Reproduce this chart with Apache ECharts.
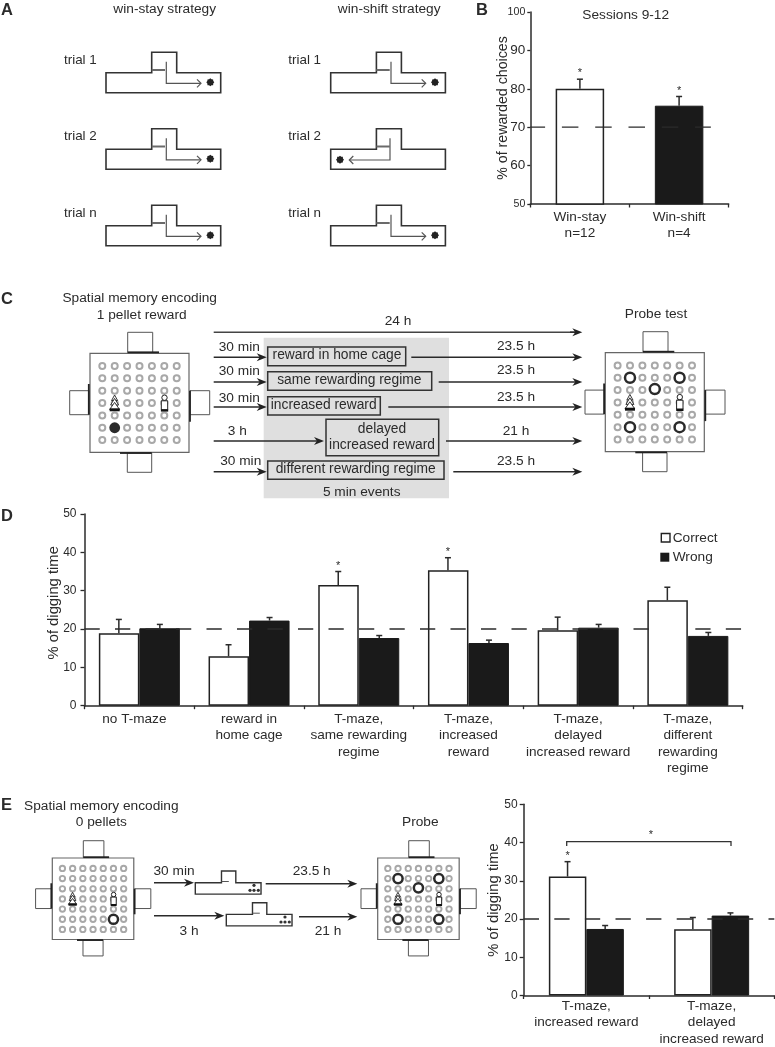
<!DOCTYPE html>
<html><head><meta charset="utf-8">
<style>html,body{margin:0;padding:0;background:#fff}#c{width:775px;height:1047px}</style>
<script src="https://cdn.jsdelivr.net/npm/echarts@6/dist/echarts.min.js"></script>
</head><body><div id="c"></div>
<script>
// ---- data ----
const catsB = ['Win-stay\nn=12', 'Win-shift\nn=4'];
const meanB = [80, 75.6];
const errTopB = [82.5, 78];
const starB = [1, 1];
const chanceB = 70;

const catsD = ['no T-maze', 'reward in\nhome cage', 'T-maze,\nsame rewarding\nregime', 'T-maze,\nincreased\nreward', 'T-maze,\ndelayed\nincreased reward', 'T-maze,\ndifferent\nrewarding\nregime'];
const correctD = [18.9, 12.9, 31.5, 35.3, 19.65, 27.5];
const correctTopD = [22.5, 15.9, 35, 38.6, 23.1, 30.9];
const correctStarD = [0, 0, 1, 1, 0, 0];
const wrongD = [20.2, 22.2, 17.65, 16.35, 20.35, 18.2];
const wrongTopD = [21.2, 23.0, 18.3, 17.1, 21.2, 19.1];
const chanceD = 20;

const catsE = ['T-maze,\nincreased reward', 'T-maze,\ndelayed\nincreased reward'];
const correctE = [31.1, 17.3];
const correctTopE = [35, 20.4];
const correctStarE = [1, 0];
const wrongE = [17.4, 20.9];
const wrongTopE = [18.3, 21.6];
const chanceE = 20;

// ---- styling ----
const FF = '"Liberation Sans", Arial, sans-serif';
const INK = '#2b2b2b', DARK = '#1a1a1a';
const axisLine = {show: true, lineStyle: {color: INK, width: 1.5}};
const yAxisOf = (grid, min, max, name, nameSize, gap, margin, tick, size, extra) => ({
  type: 'value', gridIndex: grid, min, max, interval: 10,
  name, nameLocation: 'middle', nameGap: gap, nameMoveOverlap: false,
  nameTextStyle: Object.assign({fontFamily: FF, fontSize: nameSize, color: INK}, extra && extra.nameStyle),
  axisLine, axisTick: {show: true, length: tick, lineStyle: {color: INK, width: 1.3}},
  axisLabel: Object.assign({fontFamily: FF, fontSize: size, color: INK, margin}, extra && extra.label),
  splitLine: {show: false}
});
const xCat = (grid, data, margin, extra) => ({
  type: 'category', gridIndex: grid, data, position: 'bottom',
  axisLine, axisTick: {show: true, length: 3.5, alignWithLabel: false, lineStyle: {color: INK, width: 1.3}},
  axisLabel: Object.assign({fontFamily: FF, fontSize: 13.6, lineHeight: 16.5, color: INK, margin, interval: 0, hideOverlap: false}, extra)
});
const xHidden = (grid, max) => ({type: 'value', gridIndex: grid, min: 0, max, show: false});
const barStyleW = {color: '#fff', borderColor: '#222', borderWidth: 1.5};
const barStyleK = {color: DARK, borderColor: DARK, borderWidth: 1};
const bar = (name, xi, yi, data, style, w, gap) => ({
  name, type: 'bar', xAxisIndex: xi, yAxisIndex: yi, data, itemStyle: style,
  barWidth: w, barGap: gap, silent: true, z: 2, animation: false
});
const errs = (xi, yi, means, tops, stars, off, starFont) => ({
  type: 'custom', xAxisIndex: xi, yAxisIndex: yi, silent: true, z: 3, animation: false, clip: false,
  data: means.map((m, i) => [i, tops[i], m, stars ? stars[i] : 0]),
  encode: {x: 0, y: 1},
  renderItem(p, api) {
    const i = api.value(0), t = api.coord([i, api.value(1)]), b = api.coord([i, api.value(2)]);
    const x = t[0] + off;
    const st = {stroke: INK, lineWidth: 1.5};
    const children = [
      {type: 'line', shape: {x1: x, y1: b[1], x2: x, y2: t[1]}, style: st},
      {type: 'line', shape: {x1: x - 3, y1: t[1], x2: x + 3, y2: t[1]}, style: st}
    ];
    if (api.value(3)) children.push({type: 'text', style: {text: '*', x, y: t[1] - 6, textAlign: 'center', textVerticalAlign: 'middle', align: 'center', verticalAlign: 'middle', font: starFont || '11px ' + FF, fill: INK}});
    return {type: 'group', children};
  }
});
const dash = (xi, yi, pts, a, b, offset) => ({
  type: 'line', xAxisIndex: xi, yAxisIndex: yi, data: pts, symbol: 'none', silent: true, z: 4, animation: false, clip: false,
  lineStyle: {color: INK, width: 1.3, type: [a, b], dashOffset: offset || 0}
});

// ---- schematics ----
const G = [];
const txt = (t, x, y, size, al, extra) => G.push({type: 'text', silent: true, z: 10, style: {
  text: t, x, y, font: (extra && extra.bold ? 'bold ' : '') + size + 'px ' + FF, fill: INK,
  textAlign: al || 'center', align: al || 'center', textVerticalAlign: 'middle', verticalAlign: 'middle'}});
const ln = (x1, y1, x2, y2, color, w, z) => G.push({type: 'line', silent: true, z: z || 6, shape: {x1, y1, x2, y2}, style: {stroke: color, lineWidth: w}});
const rc = (x, y, w, h, fill, stroke, lw, z) => G.push({type: 'rect', silent: true, z: z || 5, shape: {x, y, width: w, height: h}, style: {fill: fill || 'none', stroke: stroke || 'none', lineWidth: lw || 0}});
const circ = (cx, cy, r, fill, stroke, lw) => G.push({type: 'circle', silent: true, z: 6, shape: {cx, cy, r}, style: {fill, stroke: stroke || 'none', lineWidth: lw || 0}});
const poly = (points, fill, stroke, lw, closed, z) => G.push({type: closed ? 'polygon' : 'polyline', silent: true, z: z || 6, shape: {points}, style: {fill: fill || 'none', stroke: stroke || 'none', lineWidth: lw || 0}});
const arrow = (x1, y, x2, w) => {
  ln(x1, y, x2 - 4, y, '#2a2a2a', w || 1.5);
  poly([[x2, y], [x2 - 10, y - 4], [x2 - 7, y], [x2 - 10, y + 4]], '#222', null, 0, true);
};

function maze(L, T, s, lw) {
  const P = (a, b) => [L + a * s, T + b * s];
  poly([P(0, 20.4), P(45.7, 20.4), P(45.7, 0), P(70.7, 0), P(70.7, 20.4), P(114.7, 20.4), P(114.7, 40.4), P(0, 40.4)], '#fff', '#333', lw, true);
}
function mazeA(L, T, left) {
  maze(L, T, 1, 1.6);
  ln(L + 45.7, T + 17.7, L + 59, T + 17.7, '#6a6a6a', 2);
  const g = '#555';
  if (!left) {
    poly([[L + 60.3, T + 9.4], [L + 60.3, T + 31], [L + 95, T + 31]], null, g, 1.2);
    poly([[L + 91, T + 27], [L + 95, T + 31], [L + 91, T + 35]], null, g, 1.2);
  } else {
    poly([[L + 59.3, T + 9.4], [L + 59.3, T + 31.2], [L + 18.6, T + 31.2]], null, g, 1.2);
    poly([[L + 22.6, T + 27.2], [L + 18.6, T + 31.2], [L + 22.6, T + 35.2]], null, g, 1.2);
  }
  const cx = L + (left ? 9.3 : 104.3), cy = T + (left ? 30.9 : 30);
  const pts = [];
  for (let k = 0; k < 16; k++) {
    const r = k % 2 ? 3.2 : 4, a = k * Math.PI / 8;
    pts.push([cx + r * Math.cos(a), cy + r * Math.sin(a)]);
  }
  poly(pts, '#222', null, 0, true);
}
function arena(L, T, s, rings, pellet) {
  const X = v => L + v * s, Y = v => T + v * s, r = (a, b, c, d) => rc(X(a), Y(b), (c - a) * s, (d - b) * s, '#fff', '#555', 1);
  r(37.7, -21, 62.7, -0.5); r(-20.3, 37.4, -0.7, 61.4); r(100, 37.4, 119.7, 61.4); r(37.3, 99.7, 61.7, 119);
  rc(X(0), Y(0), 99 * s, 99 * s, '#fff', '#666', 1.2);
  ln(X(37.7), Y(-1), X(69), Y(-1), '#222', 1.8);
  ln(X(-1.2), Y(30.7), X(-1.2), Y(61.4), '#222', 1.8);
  ln(X(100), Y(37.4), X(100), Y(68.4), '#222', 1.8);
  ln(X(30), Y(99.7), X(61.7), Y(99.7), '#222', 1.8);
  const hx = i => X(12.3 + 12.4 * i), hy = j => Y(12.7 + 12.35 * j);
  const isRing = (i, j) => rings.some(q => q[0] === i && q[1] === j);
  for (let i = 0; i < 7; i++) for (let j = 0; j < 7; j++) {
    if (isRing(i, j) || (pellet && pellet[0] === i && pellet[1] === j)) continue;
    circ(hx(i), hy(j), 3 * (s < 1 ? 0.9 : 1), '#fff', '#a8a8a8', 2 * (s < 1 ? 0.95 : 1));
  }
  rings.forEach(q => circ(hx(q[0]), hy(q[1]) - (q[0] === 3 ? 1 : 0), 5 * (s < 1 ? 0.92 : 1), '#fff', '#2a2a2a', 2.5));
  if (pellet) circ(hx(pellet[0]), hy(pellet[1]), 5.4, '#2a2a2a');
  // tree cue
  const tx = X(24.6), ty = Y(41.7);
  [[0, 5.5, 3], [3.4, 10, 4], [7.4, 14.6, 5]].forEach(d => {
    poly([[tx, ty + d[0] * s], [tx - d[2] * s, ty + d[1] * s], [tx + d[2] * s, ty + d[1] * s]], '#fff', '#222', 0.9, true, 7);
  });
  rc(X(19.7), Y(55), 10 * s, 3 * s, '#111', null, 0, 7);
  // bottle cue
  const bx = X(74.5);
  rc(bx - 3.2 * s, Y(47.5), 6.4 * s, 9 * s, '#fff', '#222', 1, 7);
  circ(bx, Y(44.4), 2.7 * s, '#fff', '#222', 1);
  rc(X(70.9), Y(56), 7.3 * s, 2.3 * s, '#111', null, 0, 7);
}

// Panel letters
[['A', 1, 10], ['B', 476, 10], ['C', 1, 299], ['D', 1, 516], ['E', 1, 805]].forEach(l => txt(l[0], l[1], l[2], 16.5, 'left', {bold: true}));

// Panel A
txt('win-stay strategy', 164.7, 9.5, 13.7);
txt('win-shift strategy', 389.2, 9.5, 13.7);
const rowTop = [52.3, 128.8, 205.3], rowLab = ['trial 1', 'trial 2', 'trial n'];
rowTop.forEach((t, i) => {
  txt(rowLab[i], 64, t + 8, 13.4, 'left');
  txt(rowLab[i], 288.3, t + 8, 13.4, 'left');
  mazeA(106, t, false);
  mazeA(330.7, t, i === 1);
});

// Panel B title
txt('Sessions 9-12', 625.7, 15, 13.7);

// Panel C
rc(263.7, 337.7, 185.3, 160.6, '#dfdfdf', null, 0, 1);
txt('Spatial memory encoding', 139.7, 298.5, 13.7);
txt('1 pellet reward', 141.7, 315, 13.7);
txt('Probe test', 656, 314.5, 13.7);
arena(90, 353.3, 1, [], [1, 5]);
arena(605.3, 352.7, 1, [[1, 1], [5, 1], [3, 2], [1, 5], [5, 5]], null);
txt('24 h', 398, 321.5, 13.7);
ln(213.7, 332.2, 578, 332.2, '#444', 1.5);
arrow(570, 332.2, 582.3);
[[357.3, 266.7, 411.3, 347.7], [382, 266.7, 438.7, 371.7], [407, 266.7, 388.3, 398]].forEach(a => {
  arrow(213.7, a[0], a[1]);
  arrow(a[2], a[0], 582.3);
  txt('30 min', 239.3, a[3], 13.7);
  txt('23.5 h', 516, a[3] - 1, 13.7);
});
arrow(213.7, 441, 324); txt('3 h', 237.3, 431, 13.7);
arrow(446, 441, 582.3); txt('21 h', 516, 431, 13.7);
arrow(213.7, 471.7, 266.7); txt('30 min', 240.7, 461.7, 13.7);
arrow(453.3, 471.7, 582.3); txt('23.5 h', 516, 461.7, 13.7);
[[267.7, 347, 138, 18.7], [267.7, 371.7, 164, 18.6], [267.7, 396.7, 112.6, 18.3], [326, 419.3, 112.7, 36.4], [267.7, 461, 176.3, 18.3]].forEach(b => rc(b[0], b[1], b[2], b[3], 'none', '#333', 1.5, 3));
txt('reward in home cage', 337, 355.5, 13.8);
txt('same rewarding regime', 349.3, 380, 13.8);
txt('increased reward', 323.7, 405, 13.8);
txt('delayed', 382, 429, 13.8);
txt('increased reward', 382, 445.3, 13.8);
txt('different rewarding regime', 355.7, 469.5, 13.8);
txt('5 min events', 361.7, 492, 13.7);

// Legend of panel D
rc(661.3, 533.5, 8.7, 8.5, '#fff', '#222', 1.4);
rc(660.3, 552.7, 9, 9, DARK);
txt('Correct', 672.7, 538, 13.7, 'left');
txt('Wrong', 672.7, 557.3, 13.7, 'left');

// Panel E
txt('Spatial memory encoding', 101.3, 806, 13.7);
txt('0 pellets', 101.3, 822.7, 13.7);
txt('Probe', 420.3, 822.7, 13.7);
arena(52.3, 858, 0.823, [[5, 5]], null);
arena(377.7, 858, 0.823, [[1, 1], [5, 1], [3, 2], [1, 5], [5, 5]], null);
txt('30 min', 174, 871.7, 13.7); txt('23.5 h', 311.7, 871.7, 13.7);
txt('3 h', 189, 931.7, 13.7); txt('21 h', 328, 931.7, 13.7);
arrow(154, 882.7, 194); arrow(265.7, 883.7, 357.3);
arrow(154, 915.7, 224.3); arrow(299, 916.7, 357.3);
[[195.3, 871], [226.3, 902.7]].forEach(m => {
  maze(m[0], m[1], 0.573, 1.4);
  ln(m[0] + 26.2, m[1] + 10.5, m[0] + 33.5, m[1] + 10.5, '#555', 1);
  const dots = [[58.7, 14.3], [54.7, 19.3], [58.7, 19.3], [63, 19.3]];
  dots.forEach(d => circ(m[0] + d[0], m[1] + d[1], 1.6, '#333'));
});
// comparison bracket in E
poly([[566.7, 846], [566.7, 841.7], [731, 841.7], [731, 846]], null, '#333', 1.3);
txt('*', 651, 835, 11);

// ---- chart ----
const chart = echarts.init(document.getElementById('c'), null, {renderer: 'canvas'});
chart.setOption({
  animation: false, backgroundColor: '#fff',
  textStyle: {fontFamily: FF},
  grid: [
    {left: 530.3, width: 198.4, top: 12, height: 192},
    {left: 84.5, width: 658.2, top: 514, height: 191.7},
    {left: 523.7, width: 250.6, top: 804.3, height: 191.7}
  ],
  xAxis: [
    xCat(0, catsB, 4.5),
    xCat(1, catsD, 5, {
      formatter: v => v === catsD[0] ? '{n|' + v + '}' : v,
      rich: {n: {fontFamily: FF, fontSize: 13.6, lineHeight: 16.5, color: INK, padding: [0, 10, 0, 0]}}
    }),
    xCat(2, catsE, 2),
    xHidden(0, 2), xHidden(1, 6), xHidden(2, 2)
  ],
  yAxis: [
    yAxisOf(0, 50, 100, '% of rewarded choices', 14.2, 20.5, 5, 3, 13.5, {label: {
      formatter: v => (v === 100 || v === 50) ? '{s|' + v + '}' : String(v),
      rich: {s: {fontFamily: FF, fontSize: 10.6, color: INK}}
    }}),
    yAxisOf(1, 0, 50, '% of digging time', 14.8, 23, 8, 4, 12, {nameStyle: {padding: [0, 0, 0, 14]}}),
    yAxisOf(2, 0, 50, '% of digging time', 14.8, 22, 6, 4, 12)
  ],
  series: [
    bar('Win-stay', 0, 0, [meanB[0], '-'], barStyleW, 48.5, '-100%'),
    bar('Win-shift', 0, 0, ['-', meanB[1]], barStyleK, 48.5, '-100%'),
    errs(0, 0, meanB, errTopB, starB, 0),
    dash(3, 0, [[0, chanceB], [1.82, chanceB]], 16.5, 16.8, 1.7),

    bar('Correct', 1, 1, correctD, barStyleW, 40.5, 0),
    bar('Wrong', 1, 1, wrongD, barStyleK, 40.5, 0),
    errs(1, 1, correctD, correctTopD, correctStarD, -20.5),
    errs(1, 1, wrongD, wrongTopD, null, 20.5),
    dash(4, 1, [[0, chanceD], [5.149, chanceD], [5.3, '-'], [5.568, chanceD], [5.985, chanceD]], 15.25, 15.25),

    bar('Correct E', 2, 2, correctE, barStyleW, 37.5, 0),
    bar('Wrong E', 2, 2, wrongE, barStyleK, 37.5, 0),
    errs(2, 2, correctE, correctTopE, correctStarE, -18.8),
    errs(2, 2, wrongE, wrongTopE, null, 18.8),
    dash(5, 2, [[0, chanceE], [2, chanceE]], 15.3, 15.3)
  ],
  graphic: {elements: G}
});
</script></body></html>
